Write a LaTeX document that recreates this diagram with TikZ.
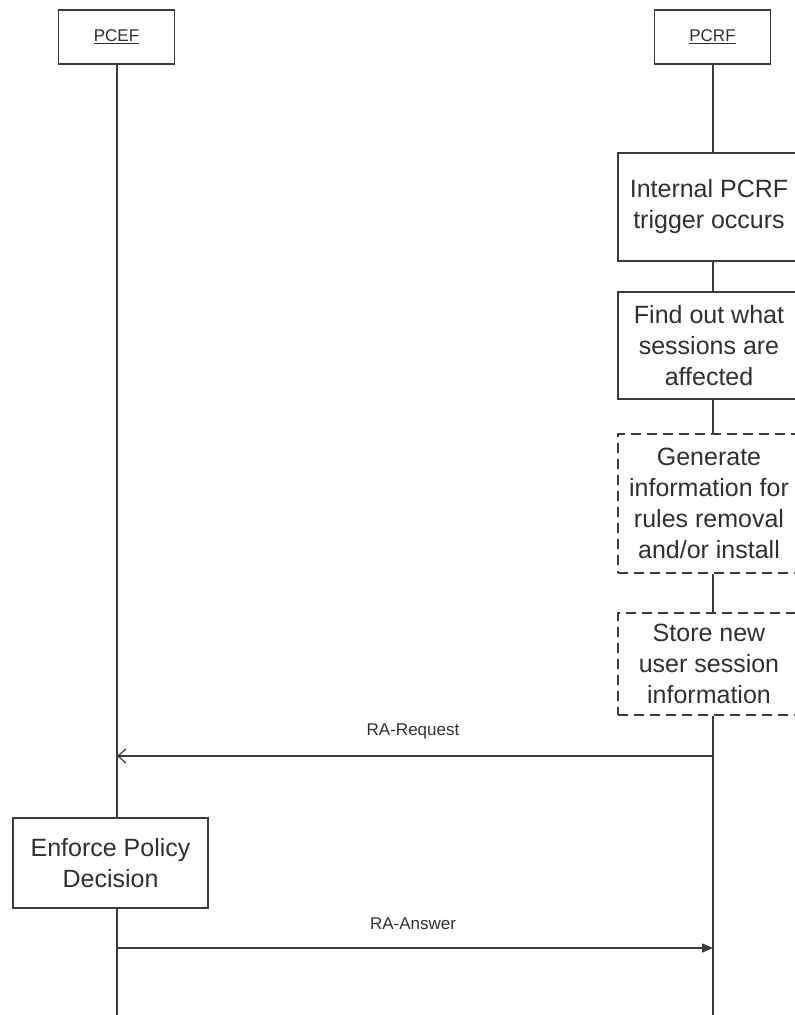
\documentclass[tikz,border=0pt]{standalone}
\usepackage{fontspec}
\setmainfont{Liberation Sans}
\usetikzlibrary{arrows.meta}
\definecolor{ink}{HTML}{3C3C3C}
\definecolor{txt}{HTML}{303030}
\begin{document}
\begin{tikzpicture}[x=1pt,y=-1pt,
  line width=1.5pt, draw=ink,
  actor/.style={draw=ink, line width=1.6pt, minimum width=116pt, minimum height=54pt,
    inner sep=0pt, text=txt, font=\fontsize{17}{20}\selectfont},
  stepbox/.style={draw=ink, line width=1.5pt, inner sep=0pt, align=center,
    text=txt, font=\fontsize{25}{31}\selectfont},
  optbox/.style={stepbox, dash pattern=on 10pt off 6pt},
  life/.style={draw=ink, line width=1.5pt},
  msg/.style={draw=ink, line width=1.5pt},
  msglabel/.style={text=txt, font=\fontsize{17}{20}\selectfont}]
\useasboundingbox (0,0) rectangle (795,1015);
\fill[white] (0,0) rectangle (795,1015);

% lifeline heads
\node[actor] (pcef) at (116.5,37) {\underline{PCEF}};
\node[actor] (pcrf) at (712.5,37) {\underline{PCRF}};

% PCRF processing steps
\node[stepbox, minimum width=182pt, minimum height=108pt] (int) at (709,207)
  {Internal PCRF\\trigger occurs};
\node[stepbox, minimum width=182pt, minimum height=107pt] (find) at (709,345.5)
  {Find out what\\sessions are\\affected};
\node[optbox, minimum width=182pt, minimum height=139pt] (gen) at (709,503.5)
  {Generate\\information for\\rules removal\\and/or install};
\node[optbox, minimum width=182pt, minimum height=102pt] (store) at (709,664)
  {Store new\\user session\\information};

% PCEF processing step
\node[stepbox, minimum width=195pt, minimum height=90pt] (enf) at (110.5,863)
  {Enforce Policy\\Decision};

% lifeline ends and message anchors
\coordinate (pcefEnd) at (117,1015);
\coordinate (pcrfEnd) at (713,1015);
\coordinate (reqR) at (713,756);
\coordinate (reqL) at (117,756);
\coordinate (ansL) at (117,948);
\coordinate (ansR) at (713,948);

% PCEF lifeline
\draw[life] (pcef.south -| reqL) -- (enf.north -| reqL);
\draw[life] (enf.south -| reqL) -- (pcefEnd);

% PCRF lifeline
\draw[life] (pcrf.south -| reqR) -- (int.north -| reqR);
\draw[life] (int.south -| reqR) -- (find.north -| reqR);
\draw[life] (find.south -| reqR) -- (gen.north -| reqR);
\draw[life] (gen.south -| reqR) -- (store.north -| reqR);
\draw[life] (store.south -| reqR) -- (pcrfEnd);

% messages
\draw[msg, -{Straight Barb[length=8pt,width=14pt,line width=1.2pt]}] (reqR) -- (reqL);
\node[msglabel] (reqlab) at (413,731) {RA-Request};
\draw[msg, -{Triangle[length=11pt,width=9pt]}] (ansL) -- (ansR);
\node[msglabel] (anslab) at (413,924) {RA-Answer};
\end{tikzpicture}
\end{document}
